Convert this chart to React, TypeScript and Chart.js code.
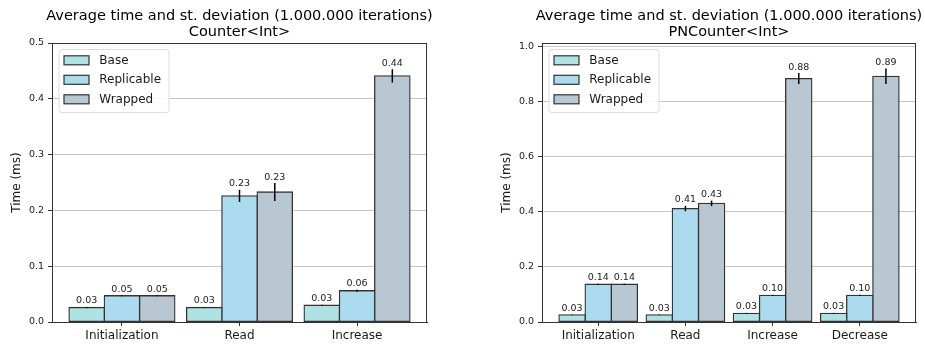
import React, { useEffect, useRef } from "react";
import { Chart, registerables } from "chart.js";

Chart.register(...registerables);

// ---------- data ----------
const seriesNames = ["Base", "Replicable", "Wrapped"];
const seriesColors = ["#b0e2e4", "#acdbef", "#b9c7d3"];

const counterCategories = ["Initialization", "Read", "Increase"];
const counterBase = [0.026, 0.026, 0.03];
const counterReplicable = [0.047, 0.226, 0.056];
const counterWrapped = [0.047, 0.233, 0.441];
const counterBaseErr = [0.001, 0.001, 0.001];
const counterReplicableErr = [0.001, 0.011, 0.002];
const counterWrappedErr = [0.001, 0.016, 0.012];
const counterYTicksMax = 0.5;

const pnCategories = ["Initialization", "Read", "Increase", "Decrease"];
const pnBase = [0.026, 0.026, 0.031, 0.031];
const pnReplicable = [0.137, 0.412, 0.097, 0.097];
const pnWrapped = [0.137, 0.431, 0.884, 0.892];
const pnBaseErr = [0.001, 0.001, 0.002, 0.002];
const pnReplicableErr = [0.002, 0.01, 0.002, 0.002];
const pnWrappedErr = [0.002, 0.01, 0.02, 0.028];
const pnYTicksMax = 1.0;

const titleLine1 = "Average time and st. deviation (1.000.000 iterations)";
const yAxisLabel = "Time (ms)";

const FONT = '"DejaVu Sans", "Liberation Sans", sans-serif';
const EDGE = "#333333";

type PanelProps = {
  subtitle: string;
  categories: string[];
  values: number[][];
  errors: number[][];
  yMax: number;
  yStep: number;
  yTopLimit: number;
  width: number;
  padLeft: number;
  padRight: number;
  xMin: number;
  xMax: number;
};

function BarPanel(props: PanelProps) {
  const ref = useRef<HTMLCanvasElement | null>(null);
  useEffect(() => {
    const canvas = ref.current;
    if (!canvas) return;
    const { categories, values, errors } = props;

    const overlay = {
      id: "mplOverlay",
      afterDatasetsDraw(chart: any) {
        const ctx = chart.ctx;
        const area = chart.chartArea;
        const yScale = chart.scales.y;
        ctx.save();
        // error bars and value labels
        chart.data.datasets.forEach((ds: any, di: number) => {
          const meta = chart.getDatasetMeta(di);
          meta.data.forEach((el: any, i: number) => {
            const v = values[di][i];
            const e = errors[di][i];
            const yHi = yScale.getPixelForValue(v + e);
            const yLo = yScale.getPixelForValue(v - e);
            ctx.strokeStyle = "#000";
            ctx.lineWidth = 1.5;
            ctx.beginPath();
            ctx.moveTo(el.x, yHi);
            ctx.lineTo(el.x, yLo);
            ctx.stroke();
            ctx.fillStyle = "#222";
            ctx.font = `9.5px ${FONT}`;
            ctx.textAlign = "center";
            ctx.textBaseline = "alphabetic";
            ctx.fillText(v.toFixed(2), el.x, Math.min(yHi, el.y) - 3.5);
          });
        });
        // frame (top/right spines)
        ctx.strokeStyle = EDGE;
        ctx.lineWidth = 1;
        ctx.strokeRect(
          Math.round(area.left) + 0.5,
          Math.round(area.top) + 0.5,
          Math.round(area.right - area.left) - 1,
          Math.round(area.bottom - area.top)
        );
        // legend
        const lx = area.left + 7;
        const ly = area.top + 6.5;
        const lw = 110;
        const lh = 63;
        const r = 3;
        ctx.beginPath();
        ctx.moveTo(lx + r, ly);
        ctx.lineTo(lx + lw - r, ly);
        ctx.quadraticCurveTo(lx + lw, ly, lx + lw, ly + r);
        ctx.lineTo(lx + lw, ly + lh - r);
        ctx.quadraticCurveTo(lx + lw, ly + lh, lx + lw - r, ly + lh);
        ctx.lineTo(lx + r, ly + lh);
        ctx.quadraticCurveTo(lx, ly + lh, lx, ly + lh - r);
        ctx.lineTo(lx, ly + r);
        ctx.quadraticCurveTo(lx, ly, lx + r, ly);
        ctx.closePath();
        ctx.fillStyle = "rgba(255,255,255,0.85)";
        ctx.fill();
        ctx.strokeStyle = "#dcdcdc";
        ctx.lineWidth = 1;
        ctx.stroke();
        seriesNames.forEach((name, i) => {
          const cy = area.top + 17.3 + i * 19.5;
          ctx.fillStyle = seriesColors[i];
          ctx.fillRect(area.left + 12, cy - 4.5, 25, 9);
          ctx.strokeStyle = EDGE;
          ctx.lineWidth = 1.2;
          ctx.strokeRect(area.left + 12, cy - 4.5, 25, 9);
          ctx.fillStyle = "#1a1a1a";
          ctx.font = `12px ${FONT}`;
          ctx.textAlign = "left";
          ctx.textBaseline = "middle";
          ctx.fillText(name, area.left + 47.3, cy + 0.5);
        });
        // title
        const cx = (area.left + area.right) / 2;
        ctx.fillStyle = "#000";
        ctx.font = `14.5px ${FONT}`;
        ctx.textAlign = "center";
        ctx.textBaseline = "alphabetic";
        ctx.fillText(titleLine1, cx, 19.5);
        ctx.fillText(props.subtitle, cx, 36);
        ctx.restore();
      },
    };

    const chart = new Chart(canvas, {
      type: "bar",
      data: {
        datasets: seriesNames.map((name, di) => ({
          label: name,
          data: values[di].map((v, i) => ({ x: i, y: v })),
          backgroundColor: seriesColors[di],
          borderColor: EDGE,
          borderWidth: 1.3,
          borderSkipped: false,
          inflateAmount: 0.65,
          categoryPercentage: 0.9,
          barPercentage: 1.0,
        })),
      },
      options: {
        animation: false,
        responsive: false,
        maintainAspectRatio: false,
        layout: { padding: { top: 43, left: props.padLeft, right: props.padRight, bottom: 0 } },
        plugins: {
          legend: { display: false },
          title: { display: false },
          tooltip: { enabled: false },
        },
        scales: {
          x: {
            type: "linear",
            offset: false,
            min: props.xMin,
            max: props.xMax,
            afterBuildTicks: (s: any) => {
              s.ticks = categories.map((_, i) => ({ value: i }));
            },
            afterFit: (s: any) => {
              s.height = 24;
            },
            ticks: {
              callback: (v: any) => categories[v] ?? "",
              font: { family: FONT, size: 12 },
              color: "#1a1a1a",
              padding: 2.5,
              maxRotation: 0,
              autoSkip: false,
            },
            grid: {
              offset: false,
              drawOnChartArea: false,
              drawTicks: true,
              tickLength: 4,
              tickColor: EDGE,
            },
            border: { color: EDGE, width: 1 },
          },
          y: {
            min: 0,
            max: props.yTopLimit,
            afterFit: (s: any) => {
              s.width = 52;
            },
            ticks: {
              stepSize: props.yStep,
              includeBounds: false,
              callback: (v: any) => (v <= props.yMax + 1e-9 ? Number(v).toFixed(1) : ""),
              font: { family: FONT, size: 9.5 },
              color: "#1a1a1a",
              padding: 4,
            },
            grid: { color: "#c6c6c6", lineWidth: 1, tickColor: EDGE, tickLength: 4 },
            border: { color: EDGE, width: 1 },
            title: {
              display: true,
              text: yAxisLabel,
              font: { family: FONT, size: 12 },
              color: "#1a1a1a",
              padding: { top: 9.5, bottom: 0 },
            },
          },
        },
      },
      plugins: [overlay],
    } as any);
    return () => chart.destroy();
  }, []);
  return (
    <canvas
      ref={ref}
      width={props.width}
      height={346}
      style={{ display: "block", width: props.width, height: 346 }}
    />
  );
}

export default function App() {
  return (
    <div
      style={{
        position: "fixed",
        left: 0,
        top: 0,
        width: 925,
        height: 346,
        background: "#fff",
        display: "flex",
      }}
    >
      <BarPanel
        subtitle="Counter<Int>"
        categories={counterCategories}
        values={[counterBase, counterReplicable, counterWrapped]}
        errors={[counterBaseErr, counterReplicableErr, counterWrappedErr]}
        yMax={counterYTicksMax}
        yStep={0.1}
        yTopLimit={0.5}
        width={470}
        padLeft={0}
        padRight={43}
        xMin={-0.595}
        xMax={2.595}
      />
      <BarPanel
        subtitle="PNCounter<Int>"
        categories={pnCategories}
        values={[pnBase, pnReplicable, pnWrapped]}
        errors={[pnBaseErr, pnReplicableErr, pnWrappedErr]}
        yMax={pnYTicksMax}
        yStep={0.2}
        yTopLimit={1.013}
        width={455}
        padLeft={20}
        padRight={9}
        xMin={-0.645}
        xMax={3.645}
      />
    </div>
  );
}
